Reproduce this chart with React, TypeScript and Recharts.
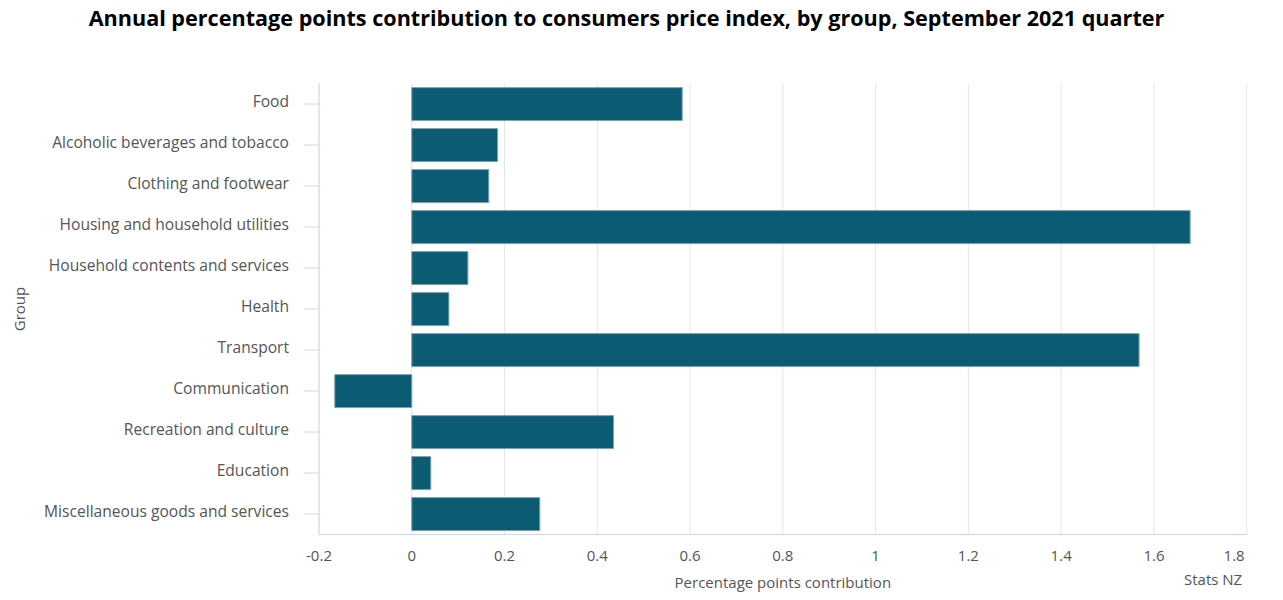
import React from 'react';
import { BarChart, Bar, XAxis, YAxis, CartesianGrid, Label } from 'recharts';

const groups = [
  'Food',
  'Alcoholic beverages and tobacco',
  'Clothing and footwear',
  'Housing and household utilities',
  'Household contents and services',
  'Health',
  'Transport',
  'Communication',
  'Recreation and culture',
  'Education',
  'Miscellaneous goods and services',
];
const contributions = [0.583, 0.185, 0.166, 1.678, 0.121, 0.08, 1.568, -0.166, 0.435, 0.041, 0.276];
const xTicks = [-0.2, 0, 0.2, 0.4, 0.6, 0.8, 1, 1.2, 1.4, 1.6, 1.8];

const data = groups.map((g, i) => ({ group: g, value: contributions[i] }));

const FONT = '"Open Sans", "DejaVu Sans", sans-serif';
const TEXT = '#555555';

const fmt = (v: number) => String(Number(v.toFixed(1)));

const XTick = (props: any) => {
  const { x, y, payload } = props;
  const last = payload.value === xTicks[xTicks.length - 1];
  return (
    <text
      x={last ? x - 2 : x}
      y={y}
      dy="0.71em"
      textAnchor={last ? 'end' : 'middle'}
      fill={TEXT}
      fontSize={15}
      fontFamily={FONT}
    >
      {fmt(payload.value)}
    </text>
  );
};

const YTick = (props: any) => {
  const { x, y, payload } = props;
  return (
    <text x={x} y={y} dy={3} textAnchor="end" fill={TEXT} fontSize={15.6} fontFamily={FONT}>
      {payload.value}
    </text>
  );
};

export default function App() {
  return (
    <div style={{ position: 'absolute', left: 0, top: 0, width: 1283, height: 600, fontFamily: FONT, background: '#fff' }}>
      <div
        style={{
          position: 'absolute',
          left: 0,
          top: 5,
          width: 1253,
          textAlign: 'center',
          fontSize: 21.6,
          lineHeight: '26px',
          fontWeight: 700,
          color: '#000',
          whiteSpace: 'nowrap',
        }}
      >
        Annual percentage points contribution to consumers price index, by group, September 2021 quarter
      </div>
      <BarChart
        width={1283}
        height={600}
        data={data}
        layout="vertical"
        margin={{ top: 83.5, right: 36.3, bottom: 35.5, left: 0 }}
        barCategoryGap="10%"
      >
        <CartesianGrid horizontal={false} stroke="#e6e6e6" strokeWidth={1} />
        <XAxis
          type="number"
          domain={[-0.2, 1.8]}
          ticks={xTicks}
          interval={0}
          allowDataOverflow
          height={30}
          axisLine={{ stroke: '#ccd6eb' }}
          tickLine={false}
          tickMargin={10}
          tick={<XTick />}
        >
          <Label
            value="Percentage points contribution"
            position="bottom"
            offset={13}
            fill={TEXT}
            fontSize={15}
            fontFamily={FONT}
          />
        </XAxis>
        <YAxis
          type="category"
          dataKey="group"
          width={319}
          interval={0}
          axisLine={{ stroke: '#ccd6eb' }}
          tickLine={{ stroke: '#ccd6eb' }}
          tickSize={15}
          tickMargin={15}
          tick={<YTick />}
        >
          <Label
            value="Group"
            angle={-90}
            position="insideLeft"
            offset={20}
            fill={TEXT}
            fontSize={15}
            fontFamily={FONT}
            style={{ textAnchor: 'middle' }}
          />
        </YAxis>
        <Bar dataKey="value" fill="#0b5c73" stroke="#7ea3b1" strokeWidth={1} isAnimationActive={false} />
      </BarChart>
      <div
        style={{
          position: 'absolute',
          left: 1184,
          top: 570,
          fontSize: 15,
          lineHeight: '19px',
          color: TEXT,
          whiteSpace: 'nowrap',
        }}
      >
        Stats NZ
      </div>
    </div>
  );
}
